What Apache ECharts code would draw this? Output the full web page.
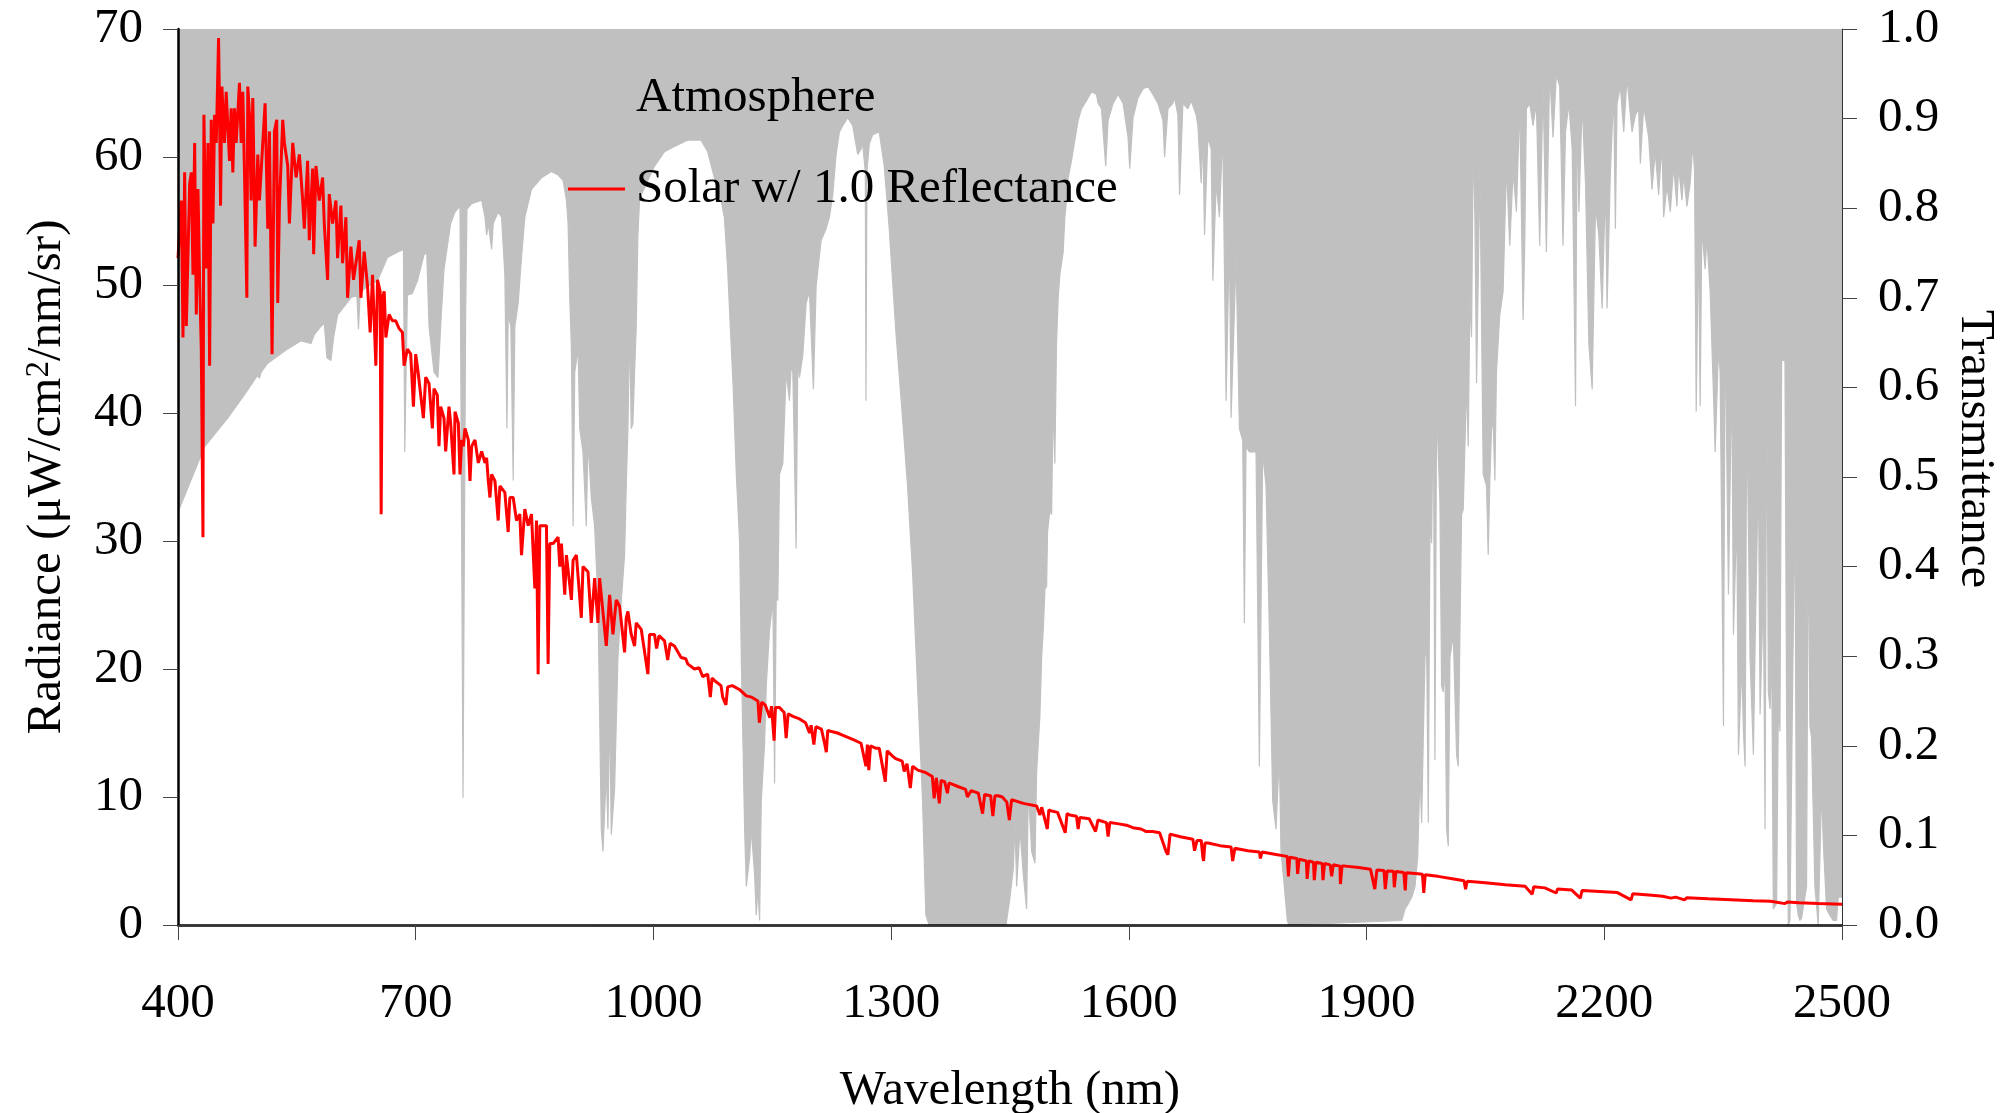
<!DOCTYPE html>
<html>
<head>
<meta charset="utf-8">
<script src="https://cdn.jsdelivr.net/npm/echarts@6/dist/echarts.min.js"></script>
<style>
  html, body { margin: 0; padding: 0; background: #fff; }
  #chart { width: 2011px; height: 1113px; }
</style>
</head>
<body>
<div id="chart"></div>
<script>
// Wavelength tick positions (nm)
const wavelengthTicks = [400, 700, 1000, 1300, 1600, 1900, 2200, 2500];

// Atmospheric transmittance: [wavelength nm, transmittance]
const atmosphere = [
  [400,0.461],[433.6,0.534],[462.9,0.566],[483.9,0.592],[500.7,0.614],[502.8,0.610],[504.9,0.617],[513.3,0.627],
  [538.5,0.643],[555.3,0.652],[567.8,0.649],[572,0.659],[580.4,0.668],[584.6,0.672],[588,0.633],[593,0.630],
  [596.4,0.656],[601.4,0.681],[618.2,0.700],[625.7,0.703],[627.8,0.665],[629.9,0.705],[635,0.710],[651.8,0.719],
  [658.1,0.732],[664.3,0.745],[676.9,0.751],[684.5,0.754],[686.2,0.528],[687.8,0.528],[689.5,0.703],[695.8,0.705],
  [702.1,0.719],[710.5,0.748],[713.9,0.751],[716.8,0.668],[723.1,0.617],[728.1,0.611],[732.3,0.681],[735.7,0.732],
  [744.1,0.783],[749.6,0.796],[755.9,0.802],[758,0.426],[759.7,0.142],[761.3,0.142],[763,0.681],[764.7,0.799],
  [770.6,0.805],[783.2,0.809],[787.4,0.790],[789.5,0.770],[791.6,0.783],[795.8,0.754],[797.9,0.783],[804.1,0.796],
  [808.3,0.790],[812.5,0.726],[815.1,0.554],[816.7,0.681],[820.1,0.668],[823,0.496],[825.1,0.668],[829.3,0.694],
  [833.5,0.745],[837.7,0.790],[846.1,0.821],[858.7,0.834],[871.3,0.841],[879.7,0.837],[886,0.831],[890.2,0.809],
  [892.3,0.783],[894.4,0.700],[896.5,0.643],[898.6,0.445],[900.7,0.617],[904.9,0.643],[907,0.554],[911.1,0.528],
  [915.3,0.445],[917.4,0.541],[921.6,0.477],[925.8,0.445],[930,0.362],[934.2,0.107],[936.3,0.082],[940.5,0.171],
  [942.6,0.107],[944.7,0.247],[946.8,0.101],[951,0.152],[955.2,0.298],[959.4,0.362],[963.6,0.413],[965.7,0.490],
  [967.8,0.554],[969.9,0.668],[972,0.554],[974.1,0.560],[976.2,0.617],[978.3,0.668],[980.4,0.770],[982.5,0.809],
  [984.6,0.815],[1001.4,0.847],[1014,0.863],[1026.5,0.869],[1043.3,0.876],[1060.1,0.876],[1068.5,0.863],[1076.9,0.834],
  [1085.3,0.809],[1089.5,0.790],[1093.7,0.732],[1097,0.668],[1100.4,0.605],[1104.6,0.503],[1108.8,0.426],[1110.9,0.298],
  [1113,0.203],[1115.1,0.107],[1117.2,0.043],[1121.4,0.075],[1123.5,0.107],[1127.7,0.056],[1129.8,0.011],[1131.9,0.043],
  [1134,0.005],[1136.1,0.139],[1140.3,0.203],[1142.4,0.267],[1146.6,0.330],[1150.8,0.362],[1152.9,0.158],[1155,0.369],
  [1157,0.362],[1159.1,0.503],[1163.3,0.515],[1167.5,0.617],[1171.7,0.585],[1173.8,0.624],[1175.9,0.617],[1178,0.522],
  [1180.1,0.420],[1182.2,0.630],[1184.3,0.611],[1188.5,0.636],[1192.7,0.694],[1196.9,0.707],[1201.9,0.598],[1205.3,0.713],
  [1211.6,0.764],[1217.9,0.777],[1222.1,0.790],[1226.3,0.815],[1230.5,0.860],[1234.7,0.885],[1238.9,0.892],[1245.2,0.901],
  [1251.5,0.892],[1257.8,0.860],[1262,0.866],[1264,0.872],[1267.4,0.841],[1268.2,0.585],[1269.5,0.841],[1272.4,0.872],
  [1276.6,0.882],[1285,0.885],[1291.3,0.847],[1297.6,0.777],[1306,0.662],[1314.4,0.566],[1320.7,0.490],[1327,0.394],
  [1333.3,0.267],[1339.6,0.139],[1343.8,0.011],[1348,0],[1445,0],[1450,0.031],[1454.2,0.063],[1456.3,0.114],
  [1458.4,0.043],[1462.6,0.107],[1466.8,0.056],[1471,0.018],[1473.1,0.152],[1477.3,0.082],[1481.5,0.069],[1483.6,0.171],
  [1487.8,0.235],[1489.9,0.298],[1492,0.330],[1494.1,0.375],[1496.2,0.378],[1497.4,0.439],[1500.4,0.464],[1502.5,0.458],
  [1504.5,0.585],[1506.6,0.515],[1508.7,0.649],[1510.8,0.700],[1512.9,0.726],[1517.1,0.751],[1519.2,0.790],[1521.3,0.809],
  [1523.4,0.834],[1527.6,0.853],[1531.8,0.876],[1536,0.898],[1540.2,0.911],[1546.5,0.920],[1552.8,0.930],[1559.1,0.927],
  [1561.2,0.917],[1565.4,0.911],[1570.8,0.847],[1573.8,0.898],[1580.1,0.917],[1586.4,0.927],[1592.7,0.917],[1599,0.879],
  [1601.1,0.844],[1605.3,0.901],[1611.5,0.923],[1617.8,0.933],[1624.1,0.936],[1630.4,0.927],[1636.7,0.917],[1643,0.898],
  [1645.1,0.857],[1649.3,0.911],[1655.6,0.917],[1657.7,0.923],[1661.9,0.904],[1664,0.815],[1668.2,0.917],[1674.5,0.911],
  [1678.7,0.920],[1685,0.904],[1687.1,0.892],[1691.3,0.828],[1693.4,0.885],[1695.5,0.770],[1699.7,0.879],[1703.9,0.866],
  [1706,0.719],[1710.2,0.828],[1714.3,0.790],[1718.5,0.885],[1722.7,0.585],[1726.9,0.770],[1729,0.566],[1735.3,0.745],
  [1739.5,0.554],[1743.7,0.541],[1745.8,0.337],[1747.9,0.534],[1752.1,0.528],[1760.5,0.528],[1764.7,0.177],[1768.9,0.528],
  [1773.1,0.490],[1777.3,0.330],[1781.5,0.139],[1785.7,0.107],[1789.9,0.190],[1792,0.082],[1796.2,0.043],[1800,0.005],
  [1802,0],[1944.4,0.005],[1948.6,0.018],[1952.8,0.024],[1957,0.031],[1961.1,0.043],[1964.5,0.075],[1967.4,0.171],
  [1969.5,0.114],[1971.6,0.209],[1973.7,0.298],[1975.8,0.311],[1977.9,0.114],[1980,0.452],[1982.1,0.426],[1984.2,0.592],
  [1986.3,0.184],[1988.4,0.579],[1992.6,0.471],[1994.7,0.267],[1996.8,0.260],[1998.9,0.292],[2001,0.107],[2003.1,0.088],
  [2005.2,0.298],[2009.4,0.324],[2013.6,0.190],[2015.7,0.177],[2017.8,0.324],[2019.9,0.458],[2022,0.464],[2026.2,0.605],
  [2028.3,0.534],[2030.4,0.700],[2032.5,0.656],[2034.6,0.879],[2036.7,0.790],[2038.8,0.605],[2040.9,0.719],[2043,0.847],
  [2047.2,0.503],[2051.4,0.490],[2053.5,0.413],[2055.6,0.496],[2057.7,0.554],[2059.8,0.560],[2061.9,0.496],[2063.9,0.617],
  [2068.1,0.681],[2072.3,0.707],[2076.5,0.847],[2080.7,0.758],[2084.9,0.841],[2089.1,0.796],[2093.3,0.917],[2097.5,0.675],
  [2099.6,0.758],[2101.7,0.911],[2105.9,0.917],[2110.1,0.892],[2114.3,0.917],[2118.5,0.758],[2122.7,0.936],[2126.9,0.751],
  [2131.1,0.952],[2135.3,0.879],[2139.5,0.949],[2143.7,0.936],[2147.9,0.758],[2151.1,0.885],[2155.3,0.917],[2159.5,0.866],
  [2163.7,0.579],[2165.8,0.917],[2167.9,0.796],[2172.1,0.917],[2176.3,0.828],[2180.5,0.649],[2184.7,0.598],[2188.9,0.802],
  [2193.1,0.770],[2197.3,0.688],[2201.5,0.828],[2203.5,0.688],[2207.7,0.841],[2211.9,0.930],[2214,0.777],[2216.1,0.917],
  [2220.3,0.936],[2224.5,0.885],[2228.7,0.946],[2232.9,0.904],[2235,0.885],[2239.2,0.904],[2243.4,0.911],[2245.5,0.850],
  [2249.7,0.914],[2256,0.879],[2260.2,0.821],[2264.4,0.863],[2268.6,0.815],[2272.8,0.872],[2274.9,0.790],[2279.1,0.825],
  [2283.3,0.796],[2287.5,0.847],[2291.7,0.802],[2293.8,0.847],[2298,0.809],[2300.1,0.837],[2304.3,0.802],[2308.4,0.828],
  [2311.8,0.872],[2313.9,0.841],[2316,0.573],[2318.9,0.777],[2321,0.579],[2323.1,0.777],[2327.3,0.732],[2329.4,0.767],
  [2333.6,0.707],[2337.8,0.592],[2339.9,0.528],[2344.1,0.643],[2346.2,0.617],[2350.4,0.222],[2352.5,0.681],[2354.6,0.681],
  [2356.7,0.369],[2360.9,0.617],[2363,0.324],[2367.2,0.458],[2369.3,0.190],[2373.5,0.292],[2375.6,0.216],[2377.7,0.177],
  [2379.8,0.585],[2384,0.298],[2388.2,0.190],[2390.3,0.311],[2394.5,0.509],[2396.6,0.235],[2400.8,0.375],[2402.9,0.107],
  [2405,0.630],[2407.1,0.260],[2409.2,0.241],[2411.3,0.305],[2413.3,0.018],[2417.5,0.024],[2419.6,0.241],[2421.7,0.216],
  [2423.8,0.630],[2428,0.630],[2430.1,0.235],[2432.2,0],[2434.3,0.005],[2438.5,0.330],[2440.6,0.471],[2442.7,0.024],
  [2444.8,0.011],[2446.9,0.005],[2449,0.008],[2455.3,0.043],[2457.4,0.461],[2459.5,0.222],[2461.6,0.209],[2465.8,0.043],
  [2470,0],[2474.2,0.152],[2476.3,0.094],[2480.5,0.018],[2484.7,0.011],[2488.9,0.005],[2493.1,0.005],[2495.2,0.031],
  [2500,0.031]
];

// Solar radiance at unit reflectance: [wavelength nm, radiance µW/cm²/nm/sr]
const solar = [
  [400,52.1],[404.2,56.6],[406.3,45.9],[408.4,58.8],[410.5,46.8],[414.7,57.9],[416.8,58.8],[418.9,50.8],
  [421,61.1],[423.1,47.7],[425.2,57.5],[427.3,50.4],[429.4,45.0],[431.5,30.3],[432.7,63.3],[435.7,51.3],
  [437.8,61.1],[439.9,43.7],[442,62.9],[444.1,54.8],[446.2,63.3],[448.3,61.1],[451.2,69.3],[452.5,63.3],
  [453.7,56.2],[455.4,65.5],[458.7,61.1],[460.8,65.1],[465,59.7],[467.1,63.8],[469.2,58.8],[471.3,63.8],
  [473.4,61.1],[477.6,65.8],[479.7,61.1],[481.8,65.1],[483.9,58.8],[486.9,49.0],[488.1,65.5],[490.2,63.3],
  [492.3,56.6],[494.4,64.6],[497.3,53.0],[500.7,60.2],[502.8,56.6],[507,61.1],[509.9,64.2],[513.3,54.4],
  [515.4,62.0],[518.7,44.6],[521.7,62.0],[524.6,62.9],[525.9,48.6],[528,56.2],[532.2,62.9],[534.3,61.1],
  [538.5,59.3],[540.6,54.8],[544.8,61.1],[549,58.4],[553.2,60.2],[557.4,56.6],[559.4,54.4],[563.6,59.7],
  [565.7,53.5],[569.9,59.1],[571.2,52.4],[574.1,59.3],[578.3,56.6],[582.5,58.4],[584.6,54.8],[588.8,50.4],
  [590.9,57.1],[595.1,54.8],[599.3,56.6],[601.4,52.1],[605.6,56.2],[607.7,51.7],[611.9,55.3],[614,49.0],
  [618.2,53.0],[621.5,50.4],[624.5,51.7],[628.7,53.5],[630.8,49.0],[635,52.6],[639.2,49.9],[642.5,46.3],
  [645.5,50.8],[649.7,43.7],[651.8,50.4],[655.1,49.5],[656.4,32.1],[658.1,49.0],[660.2,49.5],[662.3,45.9],
  [666.4,47.7],[670.6,47.2],[674.8,47.2],[679,46.6],[683.2,46.3],[685.3,43.7],[689.5,45.0],[693.7,44.6],
  [697.1,40.5],[700,44.6],[703,43.2],[706.3,41.4],[709.7,39.6],[712.6,42.8],[716.8,42.3],[721,38.8],
  [723.1,41.9],[727.3,41.4],[729.4,37.4],[731.5,40.5],[735.7,39.6],[737.8,37.0],[742,40.5],[744.1,39.2],
  [748.3,35.2],[749.6,40.1],[753.8,39.2],[755.9,35.2],[758,37.9],[760.1,37.4],[762.2,38.8],[766.4,37.9],
  [768.5,34.7],[770.6,37.4],[774.8,37.9],[779,36.1],[783.2,37.0],[787.4,36.1],[789.5,36.5],[791.6,34.7],
  [793.7,33.4],[795.8,35.2],[800,34.7],[804.1,31.6],[806.2,34.3],[812.5,33.8],[816.7,30.7],[818.8,33.4],
  [823,33.4],[827.2,31.6],[831.4,32.1],[833.5,28.9],[837.7,32.5],[841.9,31.2],[846.1,32.1],[850.3,26.3],
  [852.4,31.6],[854.5,19.6],[856.6,31.2],[860.8,31.2],[865,31.2],[867.1,20.4],[869.2,29.8],[873.4,29.8],
  [879.7,30.3],[881.8,28.0],[883.9,29.8],[888.1,25.8],[890.2,28.9],[896.5,25.4],[898.6,28.5],[902.8,28.9],
  [909,24.0],[911.1,28.0],[917.4,27.6],[921.6,23.6],[925.8,27.1],[930,23.6],[932.1,27.1],[940.5,21.8],
  [944.7,25.8],[948.9,22.7],[953.1,25.4],[957.3,24.9],[963.6,21.3],[965.7,24.0],[967.8,24.5],[972,22.7],
  [976.2,21.8],[978.3,23.6],[984.6,23.1],[993,19.6],[995.1,22.7],[1001.4,22.7],[1004,21.6],[1007,22.6],
  [1014,22.2],[1018,20.7],[1021,22.0],[1026.5,21.8],[1034.9,20.9],[1040.8,20.8],[1043.3,20.4],[1051.7,20.0],
  [1057.7,20.1],[1062.2,19.4],[1068.5,19.6],[1071.8,17.8],[1074,19.3],[1076.9,19.1],[1085.3,18.7],[1087.4,17.8],
  [1091.5,17.2],[1093.7,18.6],[1099.5,18.7],[1108.4,18.4],[1117.2,17.9],[1124,17.8],[1131.9,17.5],[1133.7,15.8],
  [1136.6,17.4],[1141,17.2],[1147,16.2],[1149,17.1],[1152.3,14.4],[1154,17.0],[1159.1,17.0],[1165,16.6],
  [1167.5,14.6],[1170,16.5],[1176,16.3],[1184.4,16.1],[1192,15.8],[1197,15.0],[1199,15.6],[1202.5,14.1],
  [1205,15.5],[1212,15.3],[1216,14.2],[1218.2,13.5],[1220,15.2],[1226,15.1],[1232.3,15.0],[1240,14.8],
  [1251.5,14.5],[1262,14.2],[1268.2,12.4],[1270,14.1],[1271.8,12.1],[1274,14.0],[1281,13.8],[1285,13.8],
  [1292.6,11.2],[1295,13.6],[1301.8,13.2],[1305.6,13.0],[1314,12.8],[1316.5,12.0],[1320,12.6],[1324.2,10.7],
  [1327,12.4],[1333.7,12.1],[1343.8,11.9],[1352,11.6],[1354.3,9.9],[1357,11.5],[1360.8,9.5],[1363,11.3],
  [1367.5,11.2],[1371,10.3],[1373,11.1],[1385,10.8],[1394,10.6],[1396.2,10.0],[1398.5,10.0],[1401,10.5],
  [1410,10.3],[1415.4,8.7],[1418,10.2],[1425.6,10.1],[1428.4,8.5],[1431,10.1],[1435.1,10.1],[1440.3,10.0],
  [1446,9.6],[1449.2,8.2],[1452,9.8],[1466.8,9.5],[1483.6,9.3],[1487.8,8.6],[1490,9.2],[1497.1,7.5],
  [1499,9.0],[1502.5,8.9],[1510,8.8],[1519.7,7.2],[1522,8.7],[1525.5,8.6],[1533.9,8.5],[1536,7.5],
  [1538,8.4],[1550,8.3],[1558,7.3],[1561,8.2],[1571.7,8.0],[1573.8,6.9],[1576,8.0],[1587.3,7.9],
  [1597,7.8],[1605,7.6],[1615.4,7.5],[1622,7.3],[1630,7.3],[1638.8,7.2],[1647.2,5.7],[1649.3,5.5],
  [1652,7.1],[1665,6.9],[1680.8,6.7],[1682.9,5.8],[1684.2,5.7],[1686,6.6],[1691.3,6.6],[1693.4,5.3],
  [1694.3,5.0],[1696,6.4],[1699.9,6.4],[1715,6.2],[1729,6.1],[1731,5.0],[1733.8,6.0],[1750,5.8],
  [1764.7,5.7],[1766,5.2],[1768,5.7],[1785.7,5.5],[1795.7,5.4],[1800,5.35],[1801.4,3.8],[1803,5.3],
  [1812,5.2],[1813,4.0],[1815,5.15],[1824,5.0],[1825,3.6],[1827,5.0],[1833,4.9],[1834,3.5],
  [1836,4.9],[1844,4.8],[1845,3.5],[1847,4.8],[1854,4.7],[1856,3.8],[1858,4.7],[1866.4,4.6],
  [1867,3.2],[1869,4.6],[1873,4.6],[1890,4.5],[1905,4.35],[1910.4,2.8],[1913,4.3],[1922,4.25],
  [1923.6,2.8],[1926,4.22],[1934,4.2],[1935,2.95],[1937,4.18],[1947,4.1],[1948.8,2.7],[1950,4.08],
  [1965,4.0],[1970.5,3.96],[1972.2,2.5],[1974,3.93],[1990,3.8],[2010,3.6],[2023,3.45],[2024.9,2.8],
  [2027,3.42],[2050,3.3],[2075,3.15],[2100,3.02],[2109,2.4],[2111,2.98],[2125,2.9],[2139.3,2.5],
  [2141,2.82],[2159,2.73],[2169.7,2.1],[2172,2.7],[2200,2.6],[2216.6,2.53],[2233.8,1.96],[2236,2.45],
  [2260,2.32],[2273.8,2.24],[2284,2.1],[2290,2.18],[2301.3,1.96],[2304,2.12],[2331,2.05],[2360,1.98],
  [2388,1.9],[2410,1.85],[2428,1.67],[2431,1.8],[2445.5,1.73],[2470,1.68],[2500,1.62]
];

const FONT = "'Liberation Serif', 'Times New Roman', serif";
const textBase = { fontFamily: FONT, color: '#000', fontSize: 49 };

const chart = echarts.init(document.getElementById('chart'), null, { renderer: 'canvas' });

chart.setOption({
  animation: false,
  backgroundColor: '#ffffff',
  textStyle: { fontFamily: FONT },
  grid: { left: 178, right: 169, top: 29, bottom: 188, containLabel: false, outerBoundsMode: 'none' },
  legend: {
    orient: 'vertical',
    left: 563,
    top: 65,
    itemWidth: 57,
    itemHeight: 3,
    itemGap: 35,
    selectedMode: false,
    textStyle: Object.assign({ lineHeight: 56, padding: [0, 0, 0, 6] }, textBase),
    data: [
      { name: 'Atmosphere', icon: 'rect' },
      { name: 'Solar w/ 1.0 Reflectance', icon: 'rect' }
    ]
  },
  xAxis: [
    {
      type: 'value', min: 400, max: 2500, interval: 300, position: 'bottom', z: 10,
      axisLine: { show: true, lineStyle: { color: '#000', width: 2.5 } },
      axisTick: { show: true, customValues: wavelengthTicks, length: 15, lineStyle: { color: '#444', width: 1 } },
      axisLabel: Object.assign({ customValues: wavelengthTicks, margin: 55, formatter: v => String(v) }, textBase),
      splitLine: { show: false },
      name: 'Wavelength (nm)', nameLocation: 'middle', nameGap: 142,
      nameTextStyle: textBase
    },
    {
      type: 'value', min: 400, max: 2500, position: 'top', z: 10,
      axisLine: { show: true, lineStyle: { color: '#333', width: 1 } },
      axisTick: { show: false }, axisLabel: { show: false }, splitLine: { show: false }
    }
  ],
  yAxis: [
    {
      type: 'value', min: 0, max: 70, interval: 10, position: 'left', z: 10,
      axisLine: { show: true, lineStyle: { color: '#000', width: 2.5 } },
      axisTick: { show: true, length: 15, lineStyle: { color: '#444', width: 1 } },
      axisLabel: Object.assign({ margin: 35 }, textBase),
      splitLine: { show: false },
      name: 'Radiance (μW/cm{sup|2}/nm/sr)', nameLocation: 'middle', nameRotate: 90, nameGap: 106,
      nameTextStyle: Object.assign({
        rich: { sup: { fontFamily: FONT, color: '#000', fontSize: 33, lineHeight: 33, verticalAlign: 'top' } }
      }, textBase)
    },
    {
      type: 'value', min: 0, max: 1, interval: 0.1, position: 'right', z: 10,
      axisLine: { show: true, lineStyle: { color: '#333', width: 1 } },
      axisTick: { show: true, length: 15, lineStyle: { color: '#444', width: 1 } },
      axisLabel: Object.assign({ margin: 36, formatter: v => v.toFixed(1) }, textBase),
      splitLine: { show: false },
      name: 'Transmittance', nameLocation: 'middle', nameRotate: -90, nameGap: 106,
      nameTextStyle: Object.assign({ padding: [0, 56, 0, 0] }, textBase)
    }
  ],
  series: [
    {
      name: 'Atmosphere', type: 'line', xAxisIndex: 0, yAxisIndex: 1,
      data: atmosphere, symbol: 'none', silent: true, z: 2,
      itemStyle: { color: '#c0c0c0' },
      lineStyle: { color: '#c0c0c0', width: 1.2 },
      areaStyle: { color: '#c0c0c0', opacity: 1, origin: 'end' }
    },
    {
      name: 'Solar w/ 1.0 Reflectance', type: 'line', xAxisIndex: 0, yAxisIndex: 0,
      data: solar, symbol: 'none', silent: true, z: 3,
      itemStyle: { color: '#ff0000' },
      lineStyle: { color: '#ff0000', width: 3 }
    }
  ]
});
</script>
</body>
</html>
